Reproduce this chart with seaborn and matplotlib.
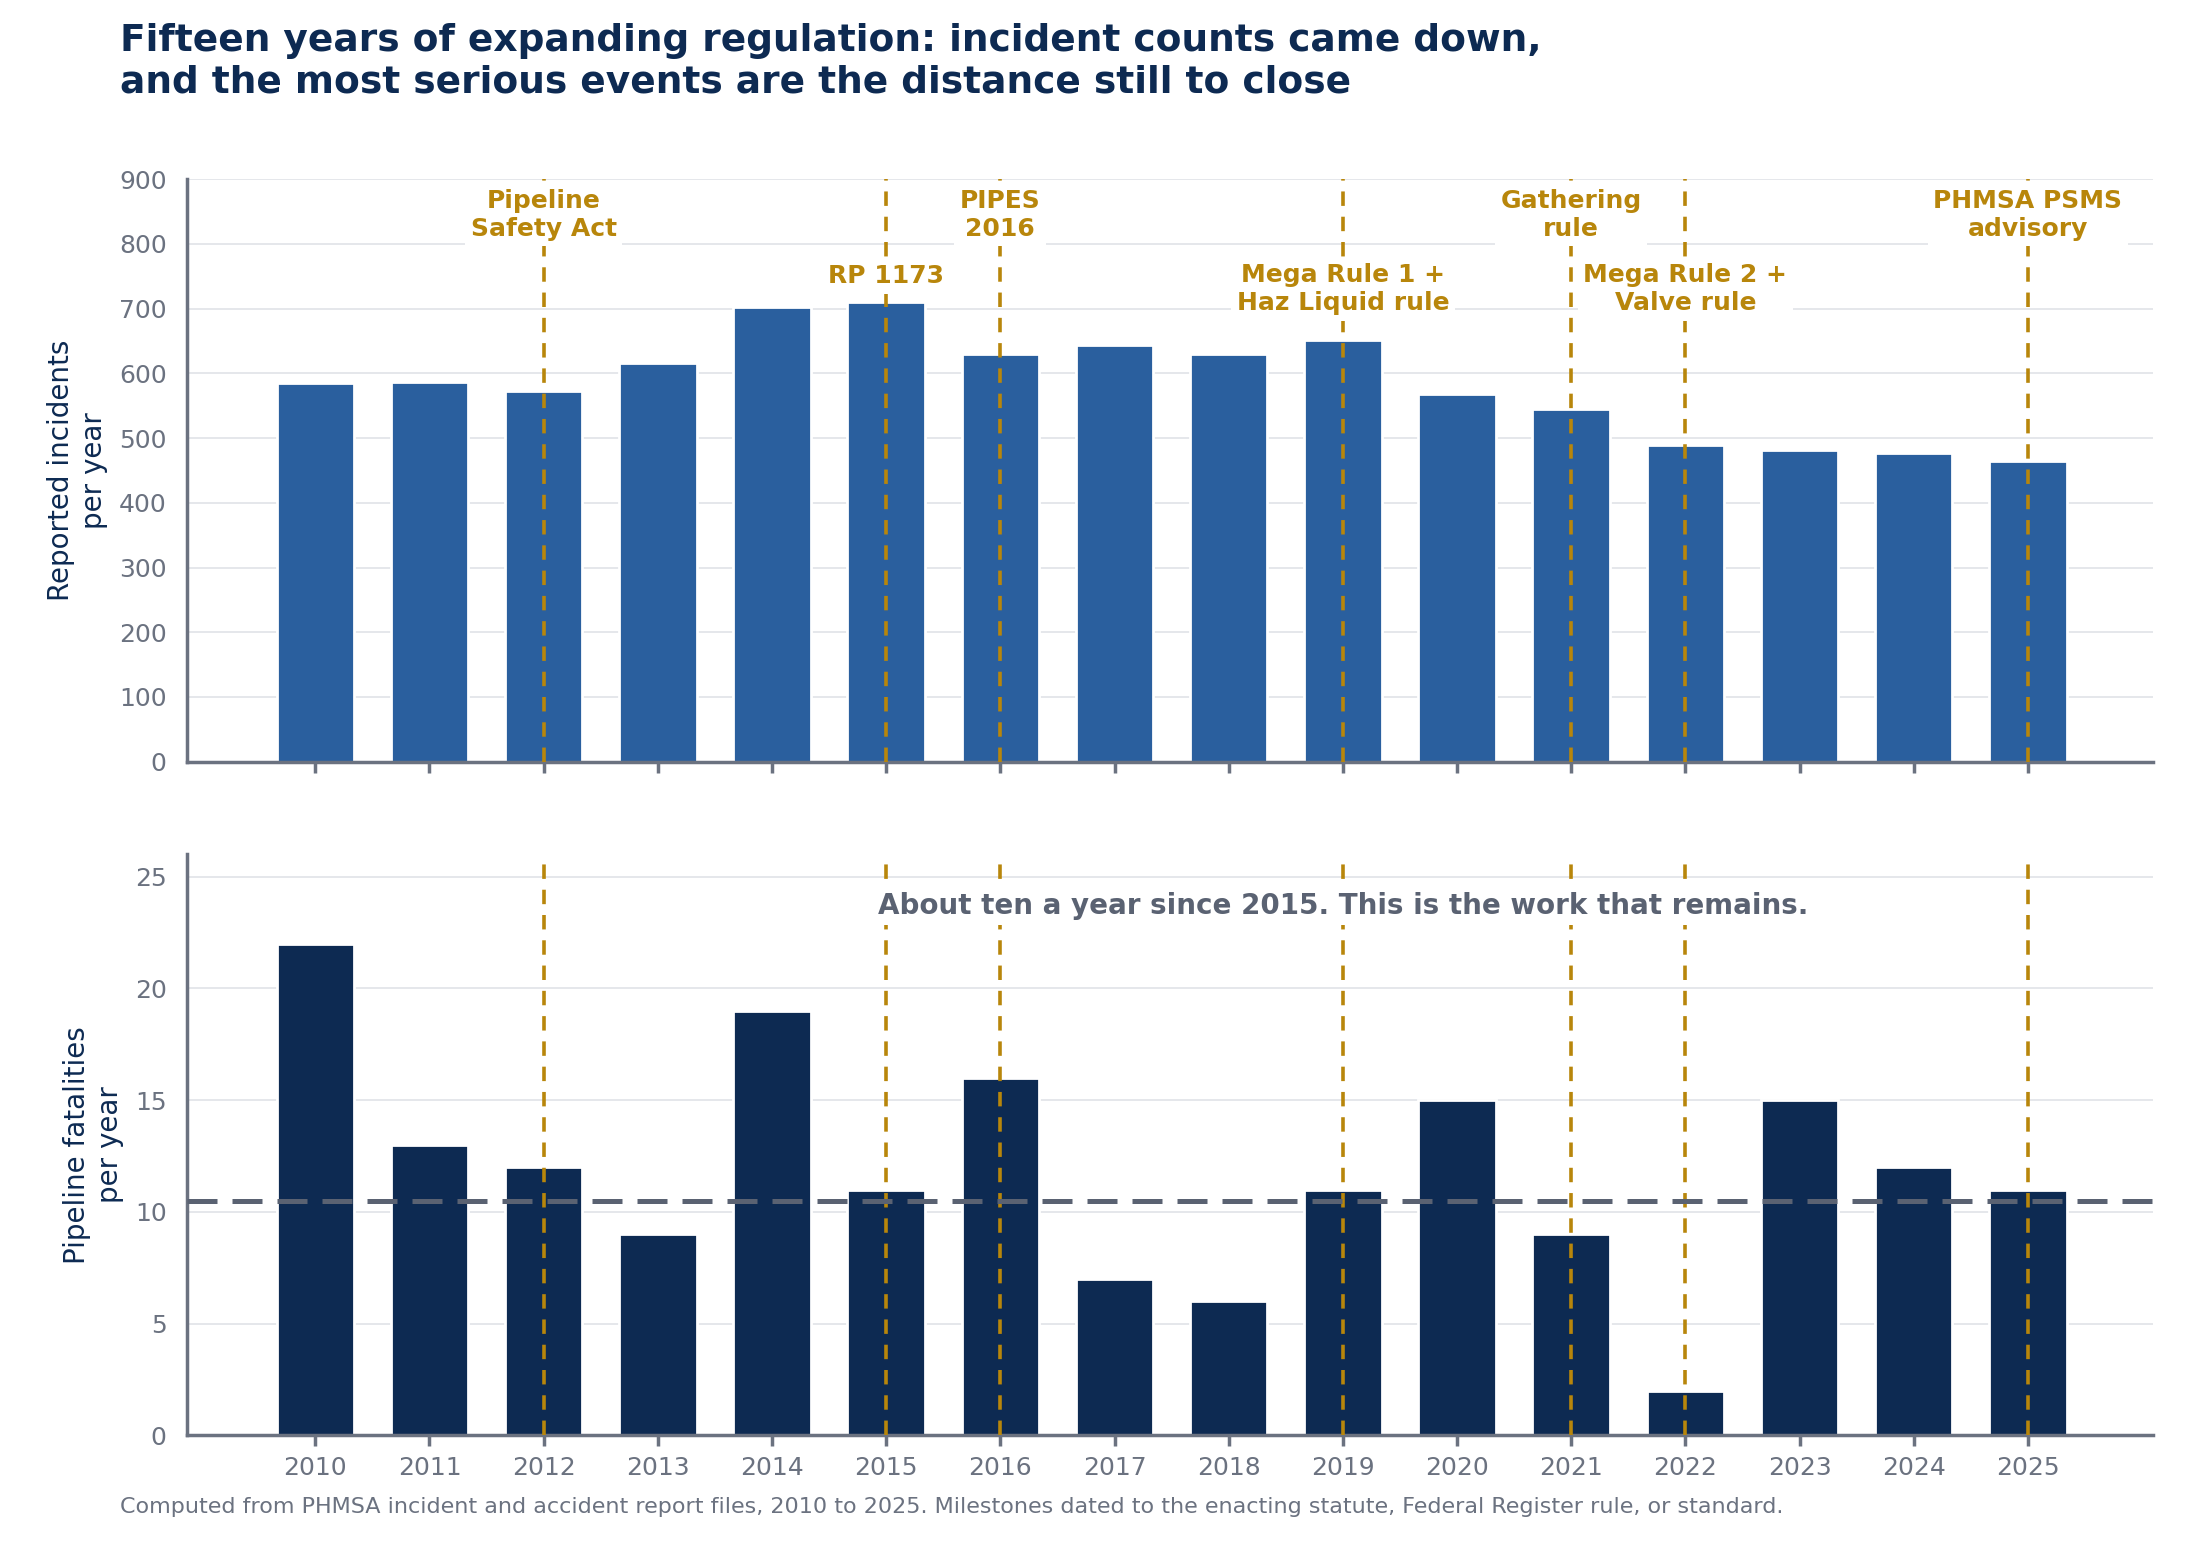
import matplotlib
matplotlib.use("Agg")
import matplotlib.pyplot as plt
import seaborn as sns
import pandas as pd

# data
years = [str(y) for y in range(2010, 2026)]
incidents = [585, 587, 572, 616, 703, 710, 630, 644, 630, 652, 568, 545, 490, 481, 477, 464]
fatalities = [22, 13, 12, 9, 19, 11, 16, 7, 6, 11, 15, 9, 2, 15, 12, 11]
avg_since_2015 = 10.5

milestone_years = ["2012", "2015", "2016", "2019", "2021", "2022", "2025"]
milestone_labels = ["Pipeline\nSafety Act", "RP 1173", "PIPES\n2016", "Mega Rule 1 +\nHaz Liquid rule",
                    "Gathering\nrule", "Mega Rule 2 +\nValve rule", "PHMSA PSMS\nadvisory"]
milestone_y = [845, 750, 845, 730, 845, 730, 845]

df = pd.DataFrame({"year": years, "incidents": incidents, "fatalities": fatalities})

NAVY = "#0D2A52"
BLUE = "#2A5F9E"
GOLD = "#B8860B"
GREY = "#6B7280"

sns.set_theme(style="white")
plt.rcParams["font.family"] = ["DejaVu Sans"]

fig = plt.figure(figsize=(10.95, 7.725), dpi=200)
ax1 = fig.add_axes([0.0856, 0.507, 0.8977, 0.377])
ax2 = fig.add_axes([0.0856, 0.071, 0.8977, 0.376])

sns.barplot(data=df, x="year", y="incidents", color=BLUE, width=0.68, saturation=1, ax=ax1, zorder=2)
sns.barplot(data=df, x="year", y="fatalities", color=NAVY, width=0.68, saturation=1, ax=ax2, zorder=2)

for ax in (ax1, ax2):
    ax.set_xlim(-1.12, 16.1)
    ax.grid(axis="y", color="#E5E7EB", linewidth=0.7, zorder=0)
    for s in ["top", "right"]:
        ax.spines[s].set_visible(False)
    ax.spines["left"].set_color(GREY)
    ax.spines["bottom"].set_color(GREY)
    ax.tick_params(axis="both", colors=GREY, labelsize=9, length=4, left=False, bottom=True)
    ax.set_xlabel("")
    for my in milestone_years:
        ax.axvline(years.index(my), color=GOLD, linestyle=(0, (4, 3)), linewidth=1.3, zorder=3)

ax1.set_ylim(0, 900)
ax1.set_yticks(range(0, 901, 100))
ax1.set_xticklabels([])
ax1.set_ylabel("Reported incidents\nper year", color=NAVY, fontsize=10)

for my, lab, yy in zip(milestone_years, milestone_labels, milestone_y):
    ax1.text(years.index(my), yy, lab, ha="center", va="center", color=GOLD, fontsize=9,
             fontweight="bold", zorder=4,
             bbox=dict(facecolor="white", edgecolor="none", pad=2))

ax2.set_ylim(0, 26)
ax2.set_yticks(range(0, 26, 5))
ax2.set_ylabel("Pipeline fatalities\nper year", color=NAVY, fontsize=10)
ax2.axhline(avg_since_2015, color="#5A6272", linestyle=(0, (6, 3)), linewidth=1.8, zorder=4)
ax2.text(9.0, 23.7, "About ten a year since 2015. This is the work that remains.", ha="center",
         va="center", color="#5A6272", fontsize=10, fontweight="bold", zorder=5,
         bbox=dict(facecolor="white", edgecolor="none", pad=2))

fig.text(0.055, 0.985, "Fifteen years of expanding regulation: incident counts came down,\n"
         "and the most serious events are the distance still to close",
         ha="left", va="top", fontsize=13.5, fontweight="bold", color=NAVY)
fig.text(0.055, 0.018, "Computed from PHMSA incident and accident report files, 2010 to 2025. "
         "Milestones dated to the enacting statute, Federal Register rule, or standard.",
         ha="left", va="bottom", fontsize=8, color=GREY)

fig.savefig("out.png", dpi=200)
